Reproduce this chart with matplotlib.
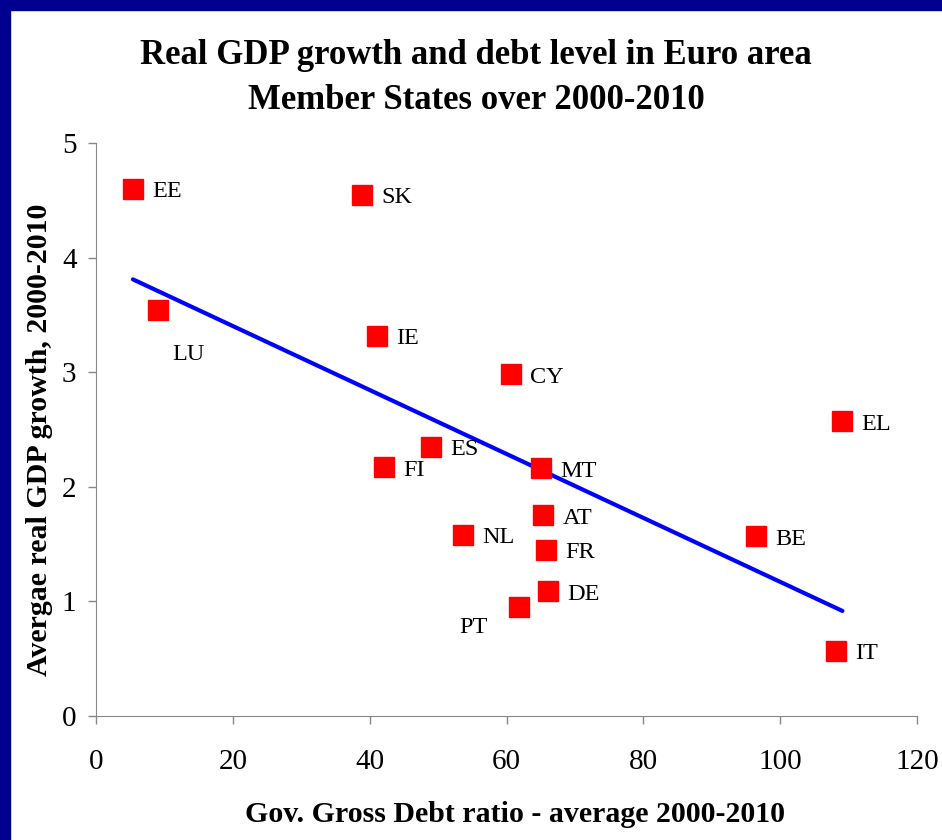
import numpy as np
import matplotlib.pyplot as plt
from matplotlib.patches import Rectangle

plt.rcParams['font.family'] = ['Liberation Serif', 'DejaVu Serif']

# country codes, average gov. debt ratio and average real GDP growth, 2000-2010
countries = ['EE', 'SK', 'LU', 'IE', 'CY', 'EL', 'ES', 'FI',
             'MT', 'AT', 'NL', 'BE', 'FR', 'DE', 'PT', 'IT']
debt = [5.4, 38.9, 9.1, 41.1, 60.7, 109.1, 49.0, 42.1,
        65.1, 65.4, 53.7, 96.5, 65.8, 66.1, 61.8, 108.2]
growth = [4.60, 4.55, 3.54, 3.32, 2.98, 2.57, 2.35, 2.17,
          2.16, 1.75, 1.58, 1.57, 1.45, 1.09, 0.95, 0.57]

# label offsets in pixels (most sit to the right of the marker)
offsets = {'LU': (14, -44), 'PT': (-60, -20)}

fig = plt.figure(figsize=(9.42, 8.4), dpi=100)
fig.patch.set_facecolor('white')

# navy frame along the top and left edges
fig.patches.append(Rectangle((0, 1 - 10 / 840), 1, 10 / 840, transform=fig.transFigure,
                             color='#000090', zorder=0))
fig.patches.append(Rectangle((0, 0), 10 / 942, 1, transform=fig.transFigure,
                             color='#000090', zorder=0))

ax = fig.add_axes([96 / 942, 1 - 716 / 840, (917 - 96) / 942, (716 - 143) / 840])

x = np.array(debt)
y = np.array(growth)
slope, intercept = np.polyfit(x, y, 1)
xl = np.array([x.min(), x.max()])
ax.plot(xl, intercept + slope * xl, color='#0000FF', lw=3, solid_capstyle='round', zorder=2)

ax.plot(x, y, 's', color='#FF0000', ms=14.5, mec='#FF0000', zorder=3)

for c, xi, yi in zip(countries, x, y):
    dx, dy = offsets.get(c, (19, -3))
    ax.annotate(c, (xi, yi), xytext=(dx, dy), textcoords='offset pixels',
                fontsize=17.5, va='center', ha='left')

ax.set_xlim(0, 120)
ax.set_ylim(0, 5)
ax.set_xticks(range(0, 121, 20))
ax.set_yticks(range(0, 6))
for s in ['top', 'right']:
    ax.spines[s].set_visible(False)
for s in ['left', 'bottom']:
    ax.spines[s].set_color('#888888')
ax.tick_params(colors='#888888', labelcolor='black', labelsize=21, length=6, width=1)
ax.tick_params(axis='x', pad=18)
ax.tick_params(axis='y', pad=8)

# axis titles
fig.text(515 / 942, 1 - 814 / 840, 'Gov. Gross Debt ratio - average 2000-2010',
         ha='center', va='center', fontsize=21.5, fontweight='bold')
fig.text(40 / 942, 1 - 440 / 840, 'Avergae real GDP growth, 2000-2010',
         ha='center', va='center', rotation=90, fontsize=21.5, fontweight='bold')

fig.text(476 / 942, 1 - 78 / 840, 'Real GDP growth and debt level in Euro area\nMember States over 2000-2010',
         ha='center', va='center', fontsize=25, fontweight='bold', linespacing=1.5)

fig.savefig('out.png', dpi=100)
